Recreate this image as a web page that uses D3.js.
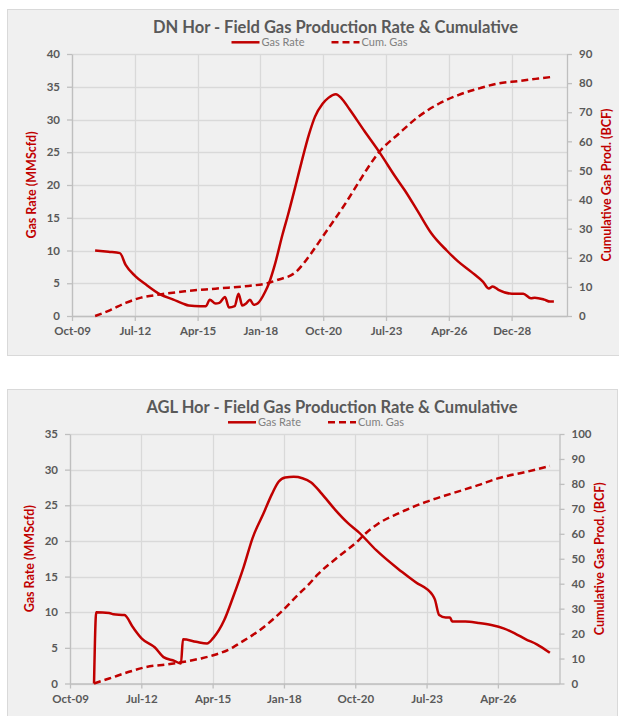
<!DOCTYPE html>
<html>
<head>
<meta charset="utf-8">
<script src="https://cdn.jsdelivr.net/npm/d3@7"></script>
<style>
html,body{margin:0;padding:0;background:#fff;}
svg{display:block;}
text{font-family:Lato,"Open Sans",sans-serif;}
</style>
</head>
<body>
<svg id="chart" width="619" height="716"></svg>
<script>
// ---------- DATA ----------
const dnTitle = "DN Hor - Field Gas Production Rate & Cumulative";
const aglTitle = "AGL Hor - Field Gas Production Rate & Cumulative";
const seriesNames = ["Gas Rate", "Cum. Gas"];
const leftAxisTitle = "Gas Rate (MMScfd)";
const rightAxisTitle = "Cumulative Gas Prod. (BCF)";

const dnXTickLabels = ["Oct-09","Jul-12","Apr-15","Jan-18","Oct-20","Jul-23","Apr-26","Dec-28"];
const aglXTickLabels = ["Oct-09","Jul-12","Apr-15","Jan-18","Oct-20","Jul-23","Apr-26"];
const dnLeftTicks = [0,5,10,15,20,25,30,35,40];
const dnRightTicks = [0,10,20,30,40,50,60,70,80,90];
const aglLeftTicks = [0,5,10,15,20,25,30,35];
const aglRightTicks = [0,10,20,30,40,50,60,70,80,90,100];

const dnRateDates = ["2010-11","2011-06","2011-12","2012-03","2012-08","2013-02","2013-09","2014-04","2014-09","2014-12",
  "2015-06","2015-09","2015-11","2016-02","2016-04","2016-07","2016-09","2016-12","2017-02","2017-04","2017-06","2017-08",
  "2017-10","2017-12","2018-04","2018-06","2018-09","2019-01","2019-04","2019-08","2019-11","2020-03","2020-06","2020-10",
  "2021-01","2021-05","2021-08","2021-12","2022-08","2023-04","2023-12","2024-05","2024-12","2025-07","2026-03","2026-09",
  "2027-04","2027-10","2028-01","2028-03","2028-06","2029-01","2029-07","2029-11","2030-01","2030-06","2030-09","2030-11"];
const dnRate = [10.0,9.8,9.6,7.8,6.1,4.7,3.3,2.5,1.9,1.6,
  1.5,1.5,2.5,1.9,2.0,2.9,1.3,1.5,3.4,1.6,1.9,2.5,
  1.7,1.9,3.7,5.0,7.8,12.4,15.5,20.0,23.5,27.8,30.4,32.4,
  33.3,33.85,33.2,31.6,28.2,24.9,21.3,19.2,15.9,12.6,10.0,8.3,
  6.7,5.2,4.2,4.5,4.0,3.4,3.4,2.7,2.8,2.5,2.2,2.2];

const dnCumDates = ["2010-11","2011-07","2012-03","2012-11","2013-09","2014-10","2016-02","2017-09","2018-04","2018-10",
  "2019-08","2020-04","2020-10","2021-10","2022-05","2022-10","2023-03","2024-02","2024-12","2025-11","2026-09","2027-08",
  "2028-06","2029-05","2030-03","2030-11"];
const dnCum = [0,2.0,4.5,6.3,7.4,8.5,9.4,10.45,11.1,12.3,
  15.1,21.5,27.2,38.7,46.0,51.2,55.8,62.7,68.4,73.0,75.9,78.2,
  79.9,80.7,81.6,82.2];

const aglRateDates = ["2010-10","2010-11","2011-05","2011-07","2011-12","2012-04","2012-08","2013-02","2013-06","2013-11",
  "2014-02","2014-03","2014-09","2015-02","2015-05","2015-10","2016-02","2016-07","2016-11","2017-04","2017-08","2017-11",
  "2018-02","2018-06","2018-10","2019-02","2019-07","2020-01","2020-07","2020-12","2021-08","2022-06","2023-02","2023-10",
  "2023-11","2024-01","2024-04","2024-06","2024-07","2025-01","2025-07","2026-01","2026-07","2026-12","2027-05","2027-10","2028-04"];
const aglRate = [0,10.0,9.9,9.7,9.6,7.85,6.3,5.05,3.7,3.17,
  2.8,6.2,5.85,5.6,6.4,8.9,12.1,16.4,20.4,23.8,26.6,28.3,
  28.9,29.0,28.8,28.2,26.6,24.4,22.5,21.2,18.7,16.1,14.25,12.4,
  11.8,9.6,9.25,9.25,8.7,8.7,8.5,8.2,7.7,7.0,6.2,5.5,4.3];

const aglCumDates = ["2010-10","2011-05","2012-03","2012-10","2013-08","2014-02","2014-11","2015-05","2016-02","2016-05",
  "2016-11","2017-02","2018-01","2018-08","2019-01","2019-05","2020-03","2020-12","2021-02","2021-09","2022-06","2023-07",
  "2024-07","2025-07","2026-04","2027-05","2028-04"];
const aglCum = [0,2.0,4.9,6.6,7.7,8.5,10.0,11.3,14.5,16.1,
  19.4,21.2,29.4,35.6,39.8,43.6,51.1,57.5,59.3,64.1,68.1,72.8,
  76.2,79.5,82.2,84.8,87.2];

// ---------- DRAW ----------
const parse = d3.timeParse("%Y-%m");
const axisStart = new Date(2009, 9, 29);
const RED = "#c00000";
const svg = d3.select("#chart");

function drawChart(c) {
  const g = svg.append("g");
  g.append("rect").attr("x", c.panel[0]).attr("y", c.panel[1])
    .attr("width", c.panel[2] - c.panel[0]).attr("height", c.panel[3] - c.panel[1])
    .attr("fill", "#f0f0f0").attr("stroke", "#d9d9d9").attr("stroke-width", 1);

  const tickDates = c.xLabels.map((_, i) => d3.timeDay.offset(axisStart, 1000 * i));
  const x = d3.scaleTime().domain([axisStart, d3.timeDay.offset(axisStart, c.spanDays)]).range([c.l, c.r]);
  const yL = d3.scaleLinear().domain([0, d3.max(c.leftTicks)]).range([c.b, c.t]);
  const yR = d3.scaleLinear().domain([0, d3.max(c.rightTicks)]).range([c.b, c.t]);

  // gridlines
  g.append("g").selectAll("line").data(c.leftTicks).join("line")
    .attr("x1", c.l).attr("x2", c.r).attr("y1", d => Math.round(yL(d)) + 0.5).attr("y2", d => Math.round(yL(d)) + 0.5)
    .attr("stroke", "#d9d9d9").attr("stroke-width", 1.3);
  g.append("g").selectAll("line").data(tickDates).join("line")
    .attr("x1", d => Math.round(x(d)) + 0.5).attr("x2", d => Math.round(x(d)) + 0.5).attr("y1", c.t).attr("y2", c.b)
    .attr("stroke", "#d9d9d9").attr("stroke-width", 1.3);

  const styleAxis = (sel) => {
    sel.select(".domain").attr("stroke", "#bfbfbf").attr("stroke-width", 1.3);
    sel.selectAll(".tick line").attr("stroke", "#bfbfbf").attr("stroke-width", 1.3);
    sel.selectAll(".tick text").attr("fill", "#595959").attr("font-weight", "bold")
      .attr("font-size", "11.5px").attr("font-family", "Lato, sans-serif");
  };

  const ax = g.append("g").attr("transform", `translate(0,${c.b})`)
    .call(d3.axisBottom(x).tickValues(tickDates).tickFormat((d, i) => c.xLabels[i]).tickSize(5).tickSizeOuter(0).tickPadding(6));
  styleAxis(ax);
  const al = g.append("g").attr("transform", `translate(${c.l},0)`)
    .call(d3.axisLeft(yL).tickValues(c.leftTicks).tickSize(5).tickSizeOuter(0).tickPadding(7));
  styleAxis(al);
  const ar = g.append("g").attr("transform", `translate(${c.r},0)`)
    .call(d3.axisRight(yR).tickValues(c.rightTicks).tickSize(5).tickSizeOuter(0).tickPadding(7));
  styleAxis(ar);

  // lines
  const rateData = c.rateDates.map((d, i) => ({ d: parse(d), v: c.rate[i] }));
  const cumData = c.cumDates.map((d, i) => ({ d: parse(d), v: c.cum[i] }));
  g.append("path").datum(cumData)
    .attr("d", d3.line().x(p => x(p.d)).y(p => yR(p.v)).curve(d3.curveMonotoneX))
    .attr("fill", "none").attr("stroke", RED).attr("stroke-width", 2.5).attr("stroke-dasharray", "7,4");
  g.append("path").datum(rateData)
    .attr("d", d3.line().x(p => x(p.d)).y(p => yL(p.v)).curve(d3.curveMonotoneX))
    .attr("fill", "none").attr("stroke", RED).attr("stroke-width", 2.5).attr("stroke-linejoin", "round");

  // title
  g.append("text").attr("x", c.titleX).attr("y", c.titleY).attr("text-anchor", "middle")
    .attr("font-size", "16.5px").attr("font-weight", "bold").attr("fill", "#595959").text(c.title);

  // legend
  const lg = g.append("g");
  lg.append("line").attr("x1", c.leg[0]).attr("x2", c.leg[0] + 28).attr("y1", c.legY).attr("y2", c.legY)
    .attr("stroke", RED).attr("stroke-width", 2.5);
  lg.append("text").attr("x", c.leg[0] + 30).attr("y", c.legY + 4).attr("font-size", "11px").attr("fill", "#7f7f7f").text(seriesNames[0]);
  lg.append("line").attr("x1", c.leg[1]).attr("x2", c.leg[1] + 28).attr("y1", c.legY).attr("y2", c.legY)
    .attr("stroke", RED).attr("stroke-width", 2.5).attr("stroke-dasharray", "7,4");
  lg.append("text").attr("x", c.leg[1] + 30).attr("y", c.legY + 4).attr("font-size", "11px").attr("fill", "#7f7f7f").text(seriesNames[1]);

  // axis titles
  const midY = (c.t + c.b) / 2;
  g.append("text").attr("transform", `translate(${c.lTitleX},${midY}) rotate(-90)`).attr("text-anchor", "middle")
    .attr("dy", "0.35em").attr("font-size", "12.5px").attr("font-weight", "bold").attr("fill", RED).text(leftAxisTitle);
  g.append("text").attr("transform", `translate(${c.rTitleX},${midY}) rotate(-90)`).attr("text-anchor", "middle")
    .attr("dy", "0.35em").attr("font-size", "12.5px").attr("font-weight", "bold").attr("fill", RED).text(rightAxisTitle);
}

drawChart({
  panel: [7.5, 9.5, 622, 355.5], l: 72, r: 567, t: 54, b: 316, spanDays: 7882,
  xLabels: dnXTickLabels, leftTicks: dnLeftTicks, rightTicks: dnRightTicks,
  rateDates: dnRateDates, rate: dnRate, cumDates: dnCumDates, cum: dnCum,
  title: dnTitle, titleX: 335.5, titleY: 32.5, leg: [231.5, 331.5], legY: 42.3,
  lTitleX: 31.7, rTitleX: 606.5
});
drawChart({
  panel: [7.5, 389.5, 617.5, 720], l: 70, r: 559.5, t: 434, b: 683.5, spanDays: 6864,
  xLabels: aglXTickLabels, leftTicks: aglLeftTicks, rightTicks: aglRightTicks,
  rateDates: aglRateDates, rate: aglRate, cumDates: aglCumDates, cum: aglCum,
  title: aglTitle, titleX: 332, titleY: 412.5, leg: [228, 328], legY: 422.3,
  lTitleX: 30, rTitleX: 600
});
</script>
</body>
</html>
